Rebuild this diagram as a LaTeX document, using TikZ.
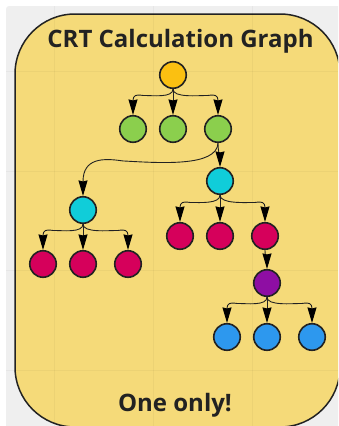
\documentclass[tikz,border=0pt]{standalone}
\usepackage{fontspec}
\setmainfont{Open Sans}
\usetikzlibrary{arrows.meta,calc}
\definecolor{paneyellow}{HTML}{F5DA79}
\definecolor{panegray}{HTML}{EFEFEF}
\definecolor{inkdark}{HTML}{222222}
\definecolor{rootfill}{RGB}{251,192,17}
\definecolor{greenfill}{RGB}{139,207,77}
\definecolor{cyanfill}{RGB}{16,205,217}
\definecolor{crimfill}{RGB}{214,0,91}
\definecolor{purpfill}{RGB}{142,14,163}
\definecolor{bluefill}{RGB}{45,152,238}
\tikzset{
  dot/.style={circle,draw=inkdark,line width=1.6pt,minimum size=26.5pt,inner sep=0pt},
  arr/.style={draw=inkdark,line width=0.9pt,-{Stealth[length=15.5pt,width=9pt,inset=1pt,color=black]}},
  titletext/.style={font=\bfseries\fontsize{24}{26}\selectfont,text=inkdark,inner sep=0pt},
  gridline/.style={line width=0.5pt,draw=black,opacity=0.035}
}
\newcommand{\fork}[3]{%
  \draw[arr] (#1.south) .. controls +(0,9) and ($(#2.north)+(#3*-20,-19.5)$) .. ($(#2.north)+(#3*-10,-19.5)$)
    .. controls ($(#2.north)+(#3*-3,-20.5)$) and ($(#2.north)+(0,-20)$) .. (#2.north);}
\begin{document}
\begin{tikzpicture}[x=1pt,y=-1pt]
\useasboundingbox (0,0) rectangle (338,426);
\begin{scope}
\clip (0,0) rectangle (338,426);
\fill[panegray,rounded corners=3pt] (6,6) rectangle (345,440);
\draw[line width=1.5pt,draw=inkdark,fill=paneyellow,rounded corners=60pt] (15,14) rectangle (340,427);
\foreach \gx in {54,153,252} \draw[gridline] (\gx,6) -- (\gx,426);
\foreach \gy in {71,171,270,370} \draw[gridline] (6,\gy) -- (338,\gy);
\end{scope}
\node[titletext] (title) at (180.5,41) {CRT Calculation Graph};
\node[titletext] (foot) at (175,405) {One only!};
\node[dot,fill=rootfill] (r) at (173,75) {};
\node[dot,fill=greenfill] (g1) at (133,129) {};
\node[dot,fill=greenfill] (g2) at (173,129) {};
\node[dot,fill=greenfill] (g3) at (218,129) {};
\node[dot,fill=cyanfill] (c1) at (220,181) {};
\node[dot,fill=cyanfill] (c2) at (83,210) {};
\node[dot,fill=crimfill] (m1) at (180,236) {};
\node[dot,fill=crimfill] (m2) at (220,236) {};
\node[dot,fill=crimfill] (m3) at (265,236) {};
\node[dot,fill=crimfill] (n1) at (43,264) {};
\node[dot,fill=crimfill] (n2) at (83,264) {};
\node[dot,fill=crimfill] (n3) at (128,264) {};
\node[dot,fill=purpfill] (p) at (267,283) {};
\node[dot,fill=bluefill] (b1) at (227,337) {};
\node[dot,fill=bluefill] (b2) at (267,337) {};
\node[dot,fill=bluefill] (b3) at (312,337) {};
\fork{r}{g1}{-1}
\fork{r}{g3}{1}
\draw[arr] (r) -- (g2);
\fork{c1}{m1}{-1}
\fork{c1}{m3}{1}
\draw[arr] (c1) -- (m2);
\fork{c2}{n1}{-1}
\fork{c2}{n3}{1}
\draw[arr] (c2) -- (n2);
\fork{p}{b1}{-1}
\fork{p}{b3}{1}
\draw[arr] (p) -- (b2);
\draw[arr] (g3.south) .. controls +(0,8) and +(0,-8) .. (c1.north);
\draw[arr] (m3.south) .. controls +(0,7) and +(0,-7) .. (p.north);
\draw[arr] (g3.south) .. controls +(-1,24) and ($(c2.north)+(77,-33)$) .. ($(c2.north)+(40,-35)$)
  .. controls ($(c2.north)+(20,-38)$) and ($(c2.north)+(0,-38)$) .. (c2.north);
\end{tikzpicture}
\end{document}
